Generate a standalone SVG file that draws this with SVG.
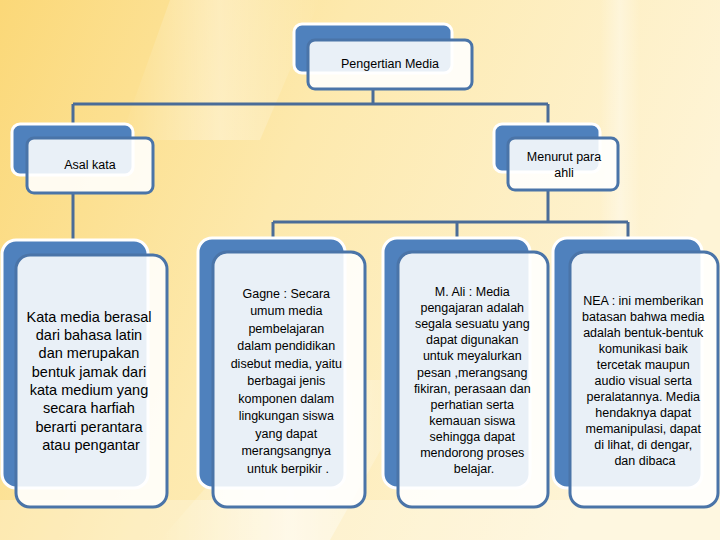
<svg xmlns="http://www.w3.org/2000/svg" width="720" height="540" viewBox="0 0 720 540">
<defs>
<linearGradient id="bg" x1="0" y1="0" x2="1" y2="0.3">
<stop offset="0" stop-color="#fbd878"/>
<stop offset="0.45" stop-color="#fde9ad"/>
<stop offset="1" stop-color="#fef4d6"/>
</linearGradient>
<linearGradient id="streak" x1="0" y1="0" x2="1" y2="0">
<stop offset="0" stop-color="#ffffff" stop-opacity="0"/>
<stop offset="0.5" stop-color="#ffffff" stop-opacity="0.7"/>
<stop offset="1" stop-color="#ffffff" stop-opacity="0"/>
</linearGradient>
</defs>
<style>
.back{fill:#4f81bd;stroke:#ffffff;stroke-width:3}
.front{fill:#ffffff;fill-opacity:0.88;stroke:#4a74a8;stroke-width:3}
.conn{fill:none;stroke:#4a6c98;stroke-width:3}
text{font-family:"Liberation Sans",Arial,sans-serif;fill:#000000;text-anchor:middle}
.s{font-size:12.5px}
.m{font-size:12.5px}
.l{font-size:14.5px}
</style>
<rect width="720" height="540" fill="url(#bg)"/>
<polygon points="160,540 300,380 420,380 330,540" fill="url(#streak)" opacity="0.8"/>
<polygon points="170,0 320,0 260,140 120,140" fill="url(#streak)" opacity="0.5"/>
<polygon points="600,0 640,0 640,260 600,260" fill="url(#streak)" opacity="0.5"/>
<rect x="0" y="500" width="720" height="40" fill="#ffffff" opacity="0.25"/>

<g id="connectors">
<path class="conn" d="M373,89 V104 M73,104 H548 M73,104 V140 M548,104 V140 M73,193 V242 M548,190 V222 M273,222 H628 M273,222 V240 M457,222 V240 M628,222 V240"/>
</g>

<g id="pengertian">
<rect class="back" x="294" y="24" width="158" height="49" rx="8"/>
<rect class="front" x="308" y="40" width="164" height="49" rx="7"/>
<text class="s" x="390" y="68">Pengertian Media</text>
</g>

<g id="asal">
<rect class="back" x="12" y="124" width="121" height="51" rx="8"/>
<rect class="front" x="27" y="138" width="126" height="55" rx="7"/>
<text class="s" x="90" y="169">Asal kata</text>
</g>

<g id="menurut">
<rect class="back" x="494" y="124" width="106" height="48" rx="8"/>
<rect class="front" x="508" y="138" width="110" height="52" rx="7"/>
<text class="s" x="564" y="161">Menurut para</text>
<text class="s" x="564" y="177">ahli</text>
</g>

<g id="kata">
<rect class="back" x="2" y="240" width="146" height="248" rx="14"/>
<rect class="front" x="16" y="255" width="151" height="252" rx="14"/>
<text class="l" x="91">
<tspan x="91" y="322">Kata media berasal</tspan>
<tspan x="91" y="340">dari bahasa latin</tspan>
<tspan x="91" y="358">dan merupakan</tspan>
<tspan x="91" y="377">bentuk jamak dari</tspan>
<tspan x="91" y="395">kata medium yang</tspan>
<tspan x="91" y="413">secara harfiah</tspan>
<tspan x="91" y="432">berarti perantara</tspan>
<tspan x="91" y="450">atau pengantar</tspan>
</text>
</g>

<g id="gagne">
<rect class="back" x="198" y="238" width="147" height="250" rx="14"/>
<rect class="front" x="213" y="252" width="152" height="255" rx="14"/>
<text class="m" x="288">
<tspan x="288" y="298">Gagne : Secara</tspan>
<tspan x="288" y="315">umum media</tspan>
<tspan x="288" y="333">pembelajaran</tspan>
<tspan x="288" y="350">dalam pendidikan</tspan>
<tspan x="288" y="368">disebut media, yaitu</tspan>
<tspan x="288" y="385">berbagai jenis</tspan>
<tspan x="288" y="403">komponen dalam</tspan>
<tspan x="288" y="420">lingkungan siswa</tspan>
<tspan x="288" y="438">yang dapat</tspan>
<tspan x="288" y="455">merangsangnya</tspan>
<tspan x="288" y="473">untuk berpikir .</tspan>
</text>
</g>

<g id="ali">
<rect class="back" x="383" y="238" width="147" height="250" rx="14"/>
<rect class="front" x="398" y="252" width="150" height="255" rx="14"/>
<text class="m" x="474">
<tspan x="474" y="296">M. Ali : Media</tspan>
<tspan x="474" y="312">pengajaran adalah</tspan>
<tspan x="474" y="328">segala sesuatu yang</tspan>
<tspan x="474" y="344">dapat digunakan</tspan>
<tspan x="474" y="360">untuk meyalurkan</tspan>
<tspan x="474" y="377">pesan ,merangsang</tspan>
<tspan x="474" y="393">fikiran, perasaan dan</tspan>
<tspan x="474" y="409">perhatian serta</tspan>
<tspan x="474" y="425">kemauan siswa</tspan>
<tspan x="474" y="441">sehingga dapat</tspan>
<tspan x="474" y="457">mendorong proses</tspan>
<tspan x="474" y="473">belajar.</tspan>
</text>
</g>

<g id="nea">
<rect class="back" x="553" y="238" width="149" height="250" rx="14"/>
<rect class="front" x="570" y="252" width="148" height="255" rx="14"/>
<text class="m" x="645">
<tspan x="645" y="305">NEA : ini memberikan</tspan>
<tspan x="645" y="321">batasan bahwa media</tspan>
<tspan x="645" y="337">adalah bentuk-bentuk</tspan>
<tspan x="645" y="353">komunikasi baik</tspan>
<tspan x="645" y="369">tercetak maupun</tspan>
<tspan x="645" y="385">audio visual serta</tspan>
<tspan x="645" y="401">peralatannya. Media</tspan>
<tspan x="645" y="417">hendaknya dapat</tspan>
<tspan x="645" y="433">memanipulasi, dapat</tspan>
<tspan x="645" y="449">di lihat, di dengar,</tspan>
<tspan x="645" y="465">dan dibaca</tspan>
</text>
</g>
</svg>
